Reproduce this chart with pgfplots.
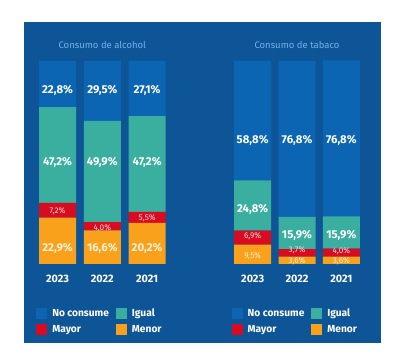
\documentclass[border=0pt]{standalone}
\usepackage{fontspec}
\setmainfont{Fira Sans}
\usepackage{pgfplots}
\pgfplotsset{compat=1.18}
\definecolor{panel}{HTML}{0D5596}
\definecolor{nocons}{HTML}{0B65B2}
\definecolor{igual}{HTML}{3AAE9F}
\definecolor{mayor}{HTML}{D90B20}
\definecolor{menor}{HTML}{F9A11B}
\definecolor{ttl}{HTML}{72B2EA}
\definecolor{baseln}{HTML}{8FB0D0}
\definecolor{cream}{HTML}{FFF1D6}
\definecolor{pinkw}{HTML}{FBD9DE}
\pgfplotsset{
  barax/.style={anchor=south west, scale only axis, width=134.4pt, height=203pt,
    ybar stacked, bar width=37pt, xmin=-0.5, xmax=2.5, ymin=0, ymax=100,
    axis line style={draw=none}, major tick length=0pt, ytick=\empty,
    xtick={0,1,2}, xticklabels={\textbf{2023},\textbf{2022},\textbf{2021}},
    xticklabel style={text=white, font=\bfseries\fontsize{10.8}{12}\selectfont, yshift=-8pt},
    title style={text=ttl, font=\fontsize{9.5}{11}\selectfont, yshift=3pt},
    legend columns=2, reverse legend, legend cell align=left,
    legend style={draw=none, fill=none, at={(0,0)}, anchor=north west, xshift=1pt, yshift=-43pt,
      font=\bfseries\fontsize{10.2}{12}\selectfont, text=white, inner sep=0pt, row sep=3pt,
      /tikz/every odd column/.append style={column sep=3pt},
      /tikz/every even column/.append style={column sep=5pt}},
  },
  leg/.style={legend image code/.code={\fill[##1] (0pt,-5.5pt) rectangle (11pt,5.5pt);}},
  labax/.style={anchor=south west, scale only axis, width=134.4pt, height=203pt,
    hide axis, xmin=-0.5, xmax=2.5, ymin=0, ymax=100, clip=false},
  lab/.style={draw=none, mark=none, nodes near coords, point meta=explicit symbolic,
    nodes near coords style={anchor=center, inner sep=0pt, #1}},
}
\begin{document}
\begin{tikzpicture}[x=1pt,y=1pt]
\fill[white] (0,0) rectangle (401,361);
\fill[panel] (24,18) rectangle (381,339);
% ---- Alcohol
\begin{axis}[barax, at={(35.1pt,97pt)}, title={Consumo de alcohol}]
\addplot[fill=menor, draw=none, leg] coordinates {(0,22.9) (1,16.6) (2,20.2)};
\addplot[fill=mayor, draw=none, leg] coordinates {(0,7.2) (1,4.0) (2,5.5)};
\addplot[fill=igual, draw=none, leg] coordinates {(0,47.2) (1,49.9) (2,47.2)};
\addplot[fill=nocons, draw=none, leg] coordinates {(0,22.8) (1,29.5) (2,27.1)};
\legend{Menor,Mayor,Igual,No consume}
\draw[baseln, line width=0.8pt] (axis cs:-0.413,0) -- (axis cs:2.413,0);
\end{axis}
\begin{axis}[labax, at={(35.1pt,97pt)}]
\addplot[lab={text=white, font=\bfseries\fontsize{11.4}{13}\selectfont}] coordinates {
 (0,85.7) [22,8\%] (1,85.7) [29,5\%] (2,85.7) [27,1\%]
 (0,49.8) [47,2\%] (1,49.8) [49,9\%] (2,49.8) [47,2\%]};
\addplot[lab={text=cream, font=\bfseries\fontsize{11.4}{13}\selectfont}] coordinates {
 (0,7.9) [22,9\%] (1,7.9) [16,6\%] (2,7.9) [20,2\%]};
\addplot[lab={text=pinkw, font=\fontsize{8.2}{9}\selectfont}] coordinates {
 (0,26.1) [7,2\%] (1,17.7) [4,0\%] (2,22.7) [5,5\%]};
\end{axis}
% ---- Tabaco
\begin{axis}[barax, at={(230.5pt,97pt)}, width=133pt, title={Consumo de tabaco}]
\addplot[fill=menor, draw=none, leg] coordinates {(0,9.5) (1,3.6) (2,3.6)};
\addplot[fill=mayor, draw=none, leg] coordinates {(0,6.9) (1,3.7) (2,4.0)};
\addplot[fill=igual, draw=none, leg] coordinates {(0,24.8) (1,15.9) (2,15.9)};
\addplot[fill=nocons, draw=none, leg] coordinates {(0,58.8) (1,76.8) (2,76.8)};
\legend{Menor,Mayor,Igual,No consume}
\draw[baseln, line width=0.8pt] (axis cs:-0.413,0) -- (axis cs:2.413,0);
\end{axis}
\begin{axis}[labax, at={(230.5pt,97pt)}, width=133pt]
\addplot[lab={text=white, font=\bfseries\fontsize{11.4}{13}\selectfont}] coordinates {
 (0,61.1) [58,8\%] (1,61.1) [76,8\%] (2,61.1) [76,8\%]
 (0,27.1) [24,8\%] (1,14.3) [15,9\%] (2,14.3) [15,9\%]};
\addplot[lab={text=pinkw, font=\fontsize{8.2}{9}\selectfont}] coordinates {
 (0,13.8) [6,9\%] (1,6.6) [3,7\%] (2,6.4) [4,0\%]};
\addplot[lab={text=cream, font=\fontsize{8.2}{9}\selectfont}] coordinates {
 (0,3.9) [9,5\%] (1,1.5) [3,6\%] (2,1.5) [3,6\%]};
\end{axis}
\end{tikzpicture}
\end{document}
